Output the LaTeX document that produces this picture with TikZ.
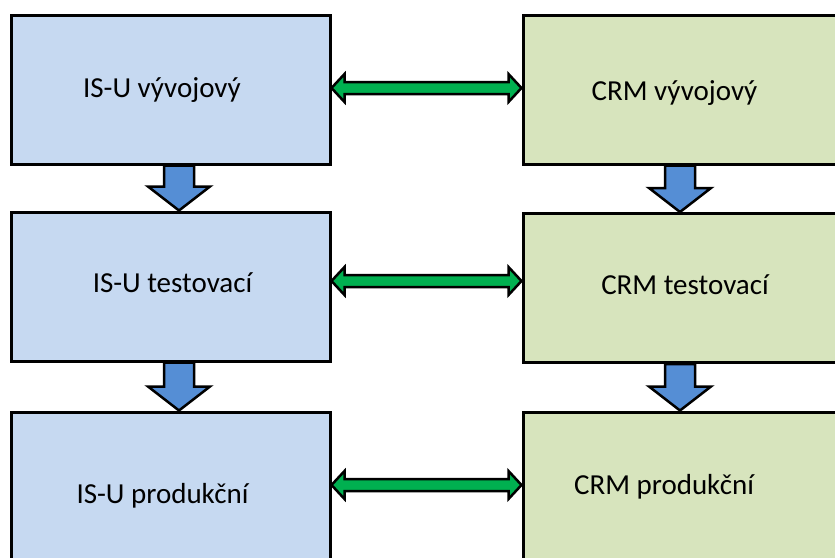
\documentclass[tikz,border=0pt]{standalone}
\usepackage{fontspec}
\setmainfont{Carlito}
\usetikzlibrary{calc}
\definecolor{isuFill}{RGB}{198,217,241}
\definecolor{crmFill}{RGB}{215,228,189}
\definecolor{downFill}{RGB}{85,142,213}
\definecolor{bothFill}{RGB}{0,176,80}

\begin{document}
\begin{tikzpicture}
[x=1pt,y=-1pt,%
  boxDecorate/.style={shape=rectangle,draw,line width=3pt,minimum width=319pt,minimum height=149pt,inner sep=0pt},%
  isuDecorate/.style={boxDecorate,fill=isuFill},%
  crmDecorate/.style={boxDecorate,fill=crmFill},%
  textDecorate/.style={anchor=base,inner sep=0pt,font=\fontsize{29}{35}\selectfont},%
  downDecorate/.style={draw,line width=2.5pt,line join=miter,fill=downFill},%
  bothDecorate/.style={draw,line width=2.5pt,line join=miter,fill=bothFill}]
\clip (0,0) rectangle (835,557);
%% boxes
\foreach \nodename/\x/\y in {
  isuDev/170.5/89.5, isuTest/170.5/286.5, isuProd/170.5/486.5}
{
  \node (\nodename) at (\x,\y) [isuDecorate] {};
}
\foreach \nodename/\x/\y in {
  crmDev/682.5/89.5, crmTest/682.5/288, crmProd/682.5/486.5}
{
  \node (\nodename) at (\x,\y) [crmDecorate] {};
}
%% texts
\foreach \nodename/\x/\y/\txt in {
  isuDevText/162/97/{IS-U vývojový}, isuTestText/172.5/292/{IS-U testovací},
  isuProdText/162.5/503/{IS-U produkční}, crmDevText/674.5/100/{CRM vývojový},
  crmTestText/685/294/{CRM testovací}, crmProdText/664/494/{CRM produkční}}
{
  \node (\nodename) at (\x,\y) [textDecorate] {\txt};
}
%% down arrows
\foreach \startnode/\endnode/\dx in {
  isuDev/isuTest/8.5, isuTest/isuProd/8.5, crmDev/crmTest/-2.5, crmTest/crmProd/-2.5}
{
  \draw[downDecorate] ($(\startnode.south)+(\dx-15,0)$) -- ++(30,0)
    -- ($(\endnode.north)+(\dx+15,-24)$) -- ++(16,0)
    -- ($(\endnode.north)+(\dx,0)$) -- ++(-31,-24) -- ++(16,0) -- cycle;
}
%% double arrows
\foreach \startnode/\endnode/\dy in {
  isuDev/crmDev/-1.5, isuTest/crmTest/-5.5, isuProd/crmProd/-1.5}
{
  \coordinate (from) at ($(\startnode.east)+(0,\dy)$);
  \coordinate (to) at (\endnode.west |- from);
  \draw[bothDecorate] (from) -- ++(13,-14) -- ++(0,8) -- ($(to)+(-13,-6)$)
    -- ++(0,-8) -- (to) -- ++(-13,14) -- ++(0,-8) -- ($(from)+(13,6)$)
    -- ++(0,8) -- cycle;
}
\end{tikzpicture}
\end{document}
